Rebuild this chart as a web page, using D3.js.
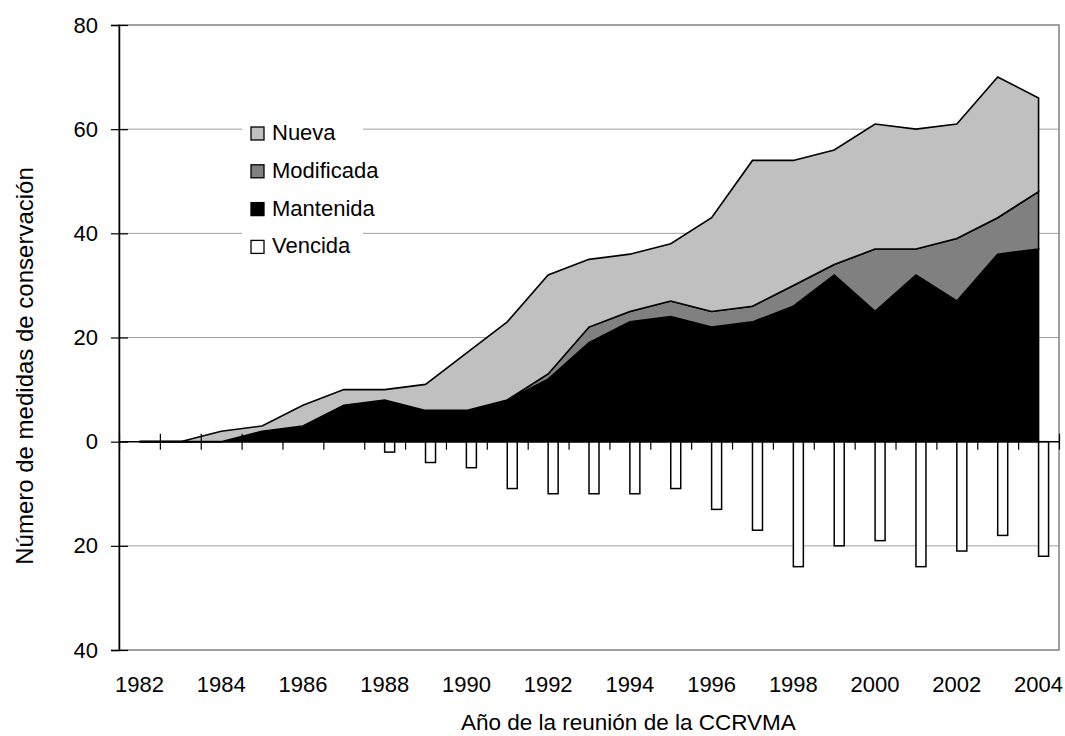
<!DOCTYPE html>
<html><head><meta charset="utf-8">
<script src="https://cdn.jsdelivr.net/npm/d3@7"></script>
<style>
body{margin:0;background:#fff;}
text{font-family:"Liberation Sans",Arial,sans-serif;fill:#000;}
</style></head>
<body><svg id="c" width="1065" height="736"></svg>
<script>
const years = [1982,1983,1984,1985,1986,1987,1988,1989,1990,1991,1992,1993,1994,1995,1996,1997,1998,1999,2000,2001,2002,2003,2004];
const mantenida  = [0,0,0,2,3,7,8,6,6,8,12,19,23,24,22,23,26,32,25,32,27,36,37];
const modificada = [0,0,0,0,0,0,0,0,0,0,1,3,2,3,3,3,4,2,12,5,12,7,11];
const nueva      = [0,0,2,1,4,3,2,5,11,15,19,13,11,11,18,28,24,22,24,23,22,27,18];
const vencida    = [0,0,0,0,0,0,2,4,5,9,10,10,10,9,13,17,24,20,19,24,21,18,22];
const yTicks = [-40,-20,0,20,40,60,80];
const xLabelYears = [1982,1984,1986,1988,1990,1992,1994,1996,1998,2000,2002,2004];
const seriesNames = ["Nueva","Modificada","Mantenida","Vencida"];
const seriesColors = {Nueva:"#c0c0c0",Modificada:"#808080",Mantenida:"#000000",Vencida:"#ffffff"};

const svg = d3.select("#c");
const L=119,R=1059,T=25,B=650;
const x = d3.scaleBand().domain(years).range([L,R]).padding(0);
const xc = d => x(d)+x.bandwidth()/2;
const y = d3.scaleLinear().domain([-40,80]).range([B,T]);
const FS = "22px";

// gridlines
svg.append("g").selectAll("line").data(yTicks.filter(v=>v!==0 && v!==80 && v!==-40)).join("line")
  .attr("x1",L).attr("x2",R).attr("y1",d=>y(d)).attr("y2",d=>y(d))
  .attr("stroke","#a0a0a0").attr("stroke-width",1);
svg.append("rect").attr("x",L).attr("y",T).attr("width",R-L).attr("height",B-T)
  .attr("fill","none").attr("stroke","#808080").attr("stroke-width",1.5);

// stacked areas
const table = years.map((yr,i)=>({year:yr,Mantenida:mantenida[i],Modificada:modificada[i],Nueva:nueva[i]}));
const stack = d3.stack().keys(["Mantenida","Modificada","Nueva"])(table);
const area = d3.area().x(d=>xc(d.data.year)).y0(d=>y(d[0])).y1(d=>y(d[1]));
svg.append("g").selectAll("path").data(stack).join("path")
  .attr("d",area).attr("fill",d=>seriesColors[d.key])
  .attr("stroke","#000").attr("stroke-width",1.6).attr("stroke-linejoin","miter");

// vencida bars (downwards)
svg.append("g").selectAll("rect").data(years.map((yr,i)=>({year:yr,v:vencida[i]})).filter(d=>d.v>0)).join("rect")
  .attr("x",d=>xc(d.year)).attr("width",10)
  .attr("y",y(0)).attr("height",d=>y(-d.v)-y(0))
  .attr("fill","#fff").attr("stroke","#000").attr("stroke-width",1.5);

// x axis line + cross ticks at band boundaries
const idx = d3.scaleLinear().domain([0,years.length]).range([L,R]);
const xTickG = svg.append("g").attr("transform",`translate(0,${y(0)})`)
  .call(d3.axisBottom(idx).tickValues(d3.range(0,years.length+1)).tickSize(8).tickFormat(""));
xTickG.select(".domain").remove();
xTickG.selectAll(".tick line").attr("y1",-8).attr("stroke","#000").attr("stroke-width",1.2);
svg.append("line").attr("x1",L).attr("x2",R).attr("y1",y(0)).attr("y2",y(0)).attr("stroke","#000").attr("stroke-width",1.5);

// x labels
const xl = svg.append("g").attr("transform",`translate(0,${B})`)
  .call(d3.axisBottom(x).tickValues(xLabelYears).tickSize(0).tickPadding(26));
xl.select(".domain").remove();
xl.selectAll("text").style("font-size",FS).attr("font-family",null);

// y axis
const ya = svg.append("g").attr("transform",`translate(${L},0)`)
  .call(d3.axisLeft(y).tickValues(yTicks).tickSize(8).tickPadding(13).tickFormat(d=>Math.abs(d)));
ya.select(".domain").attr("stroke","#000").attr("stroke-width",1.5);
ya.selectAll(".tick line").attr("x2",-8).attr("x1",9).attr("stroke","#000").attr("stroke-width",1.2);
ya.selectAll("text").style("font-size",FS).attr("font-family",null);

// titles
svg.append("text").attr("x",461).attr("y",730).attr("text-anchor","start").style("font-size","22.5px")
  .text("Año de la reunión de la CCRVMA");
svg.append("text").attr("transform",`translate(33,366) rotate(-90)`).attr("text-anchor","middle").style("font-size","24px")
  .text("Número de medidas de conservación");

// legend
const lg = svg.append("g");
lg.append("rect").attr("x",242).attr("y",113).attr("width",121).attr("height",150).attr("fill","#fff");
const rows = lg.selectAll("g.row").data(seriesNames).join("g").attr("class","row")
  .attr("transform",(d,i)=>`translate(251,${140+i*37.8})`);
rows.append("rect").attr("x",0).attr("y",-13).attr("width",13).attr("height",13)
  .attr("fill",d=>seriesColors[d]).attr("stroke","#000").attr("stroke-width",1.3);
rows.append("text").attr("x",21).attr("y",0).style("font-size",FS).text(d=>d);
</script></body></html>
